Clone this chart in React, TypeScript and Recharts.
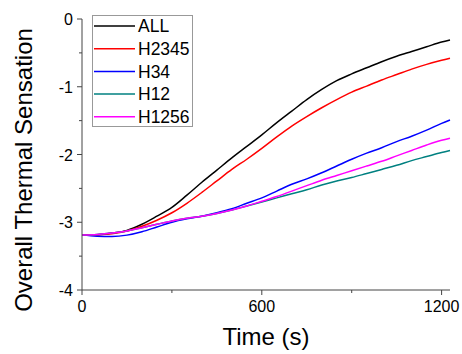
import React from 'react';
import { LineChart, Line, XAxis, YAxis, Legend, Label } from 'recharts';

const times = [0, 50, 100, 150, 200, 250, 300, 350, 400, 450, 500, 550, 600, 650, 700, 750, 800, 850, 900, 950, 1000, 1050, 1100, 1150, 1200, 1228];
const allVals = [-3.19, -3.185, -3.16, -3.12, -3.03, -2.91, -2.78, -2.60, -2.41, -2.23, -2.05, -1.88, -1.71, -1.53, -1.36, -1.19, -1.04, -0.91, -0.81, -0.72, -0.63, -0.55, -0.48, -0.41, -0.34, -0.31];
const h2345Vals = [-3.19, -3.185, -3.17, -3.13, -3.06, -2.97, -2.86, -2.72, -2.56, -2.39, -2.22, -2.07, -1.91, -1.74, -1.58, -1.44, -1.31, -1.19, -1.08, -0.99, -0.90, -0.82, -0.74, -0.67, -0.61, -0.58];
const h34Vals = [-3.19, -3.205, -3.21, -3.19, -3.14, -3.07, -3.0, -2.95, -2.91, -2.86, -2.80, -2.72, -2.64, -2.54, -2.44, -2.36, -2.27, -2.17, -2.07, -1.98, -1.90, -1.81, -1.73, -1.64, -1.54, -1.49];
const h12Vals = [-3.19, -3.18, -3.16, -3.13, -3.08, -3.03, -2.98, -2.94, -2.91, -2.87, -2.82, -2.76, -2.70, -2.64, -2.58, -2.52, -2.45, -2.39, -2.34, -2.28, -2.22, -2.16, -2.09, -2.03, -1.97, -1.94];
const h1256Vals = [-3.19, -3.18, -3.16, -3.13, -3.08, -3.03, -2.98, -2.94, -2.91, -2.87, -2.82, -2.76, -2.69, -2.62, -2.54, -2.46, -2.38, -2.31, -2.24, -2.17, -2.10, -2.02, -1.94, -1.86, -1.79, -1.76];

const xTicks = [0, 300, 600, 900, 1200];
const xLabels = [0, 600, 1200];
const yTicks = [-4, -3.5, -3, -2.5, -2, -1.5, -1, -0.5, 0];
const yLabels = [-4, -3, -2, -1, 0];

const seriesNames = ['ALL', 'H2345', 'H34', 'H12', 'H1256'];
const seriesColors = ['#000000', '#ff0000', '#0000ff', '#008080', '#ff00ff'];
const seriesValues = [allVals, h2345Vals, h34Vals, h12Vals, h1256Vals];

const data = times.map((t, i) => {
  const row: any = { t };
  seriesNames.forEach((n, k) => { row[n] = seriesValues[k][i]; });
  return row;
});

const FONT = 'Liberation Sans, Arial, sans-serif';
const AXIS_COLOR = '#444';

const XTick = (props: any) => {
  const { x, y, payload } = props;
  const major = xLabels.includes(payload.value);
  return (
    <g>
      <line x1={x} x2={x} y1={y} y2={y + (major ? 5 : 3)} stroke={AXIS_COLOR} strokeWidth={1} />
      {major && (
        <text x={x} y={y + 22} textAnchor="middle" fontSize={16} fontFamily={FONT} fill="#000">
          {payload.value}
        </text>
      )}
    </g>
  );
};

const YTick = (props: any) => {
  const { x, y, payload } = props;
  const major = yLabels.includes(payload.value);
  return (
    <g>
      <line x1={x} x2={x - (major ? 5 : 3)} y1={y} y2={y} stroke={AXIS_COLOR} strokeWidth={1} />
      {major && (
        <text x={x - 9} y={y + 6} textAnchor="end" fontSize={16} fontFamily={FONT} fill="#000">
          {payload.value}
        </text>
      )}
    </g>
  );
};

const LegendBox = () => {
  return (
    <div style={{ border: '1px solid #999', background: '#fff', width: 101, height: 112, boxSizing: 'border-box' }}>
      <svg width={99} height={110} style={{ display: 'block' }}>
        {seriesNames.map((n, i) => {
          const cy = 10 + i * 22.7;
          return (
            <g key={n}>
              <line x1={1} x2={42} y1={cy} y2={cy} stroke={seriesColors[i]} strokeWidth={1.5} />
              <text x={45} y={cy + 6.3} fontSize={17.5} fontFamily={FONT} fill="#000">{n}</text>
            </g>
          );
        })}
      </svg>
    </div>
  );
};

export default function App() {
  return (
    <div style={{ position: 'absolute', left: 0, top: 0, width: 462, height: 354, background: '#fff' }}>
      <LineChart width={462} height={354} data={data} margin={{ top: 19, right: 12, bottom: 0, left: 0 }}>
        <XAxis
          dataKey="t"
          type="number"
          domain={[0, 1228]}
          ticks={xTicks}
          interval={0}
          tick={<XTick />}
          tickLine={false}
          tickSize={0}
          tickMargin={0}
          height={64}
          stroke={AXIS_COLOR}
          axisLine={{ stroke: AXIS_COLOR, strokeWidth: 1 }}
        >
          <Label
            content={() => (
              <text x={266} y={345} textAnchor="middle" fontSize={24} fontFamily={FONT} fill="#000">Time (s)</text>
            )}
          />
        </XAxis>
        <YAxis
          type="number"
          domain={[-4, 0]}
          ticks={yTicks}
          interval={0}
          tick={<YTick />}
          tickLine={false}
          tickSize={0}
          tickMargin={0}
          width={82}
          axisLine={{ stroke: AXIS_COLOR, strokeWidth: 1 }}
        >
          <Label
            content={() => (
              <text x={0} y={0} transform="translate(32,170) rotate(-90)" textAnchor="middle" fontSize={24} fontFamily={FONT} fill="#000">Overall Thermal Sensation</text>
            )}
          />
        </YAxis>
        <Legend
          content={<LegendBox />}
          layout="vertical"
          verticalAlign="middle"
          align="center"
          wrapperStyle={{ position: 'absolute', left: 92, top: 15, width: 101, height: 112 }}
        />
        {seriesNames.map((n, k) => (
          <Line
            key={n}
            dataKey={n}
            name={n}
            type="monotone"
            stroke={seriesColors[k]}
            strokeWidth={1.5}
            dot={false}
            isAnimationActive={false}
          />
        ))}
      </LineChart>
    </div>
  );
}
